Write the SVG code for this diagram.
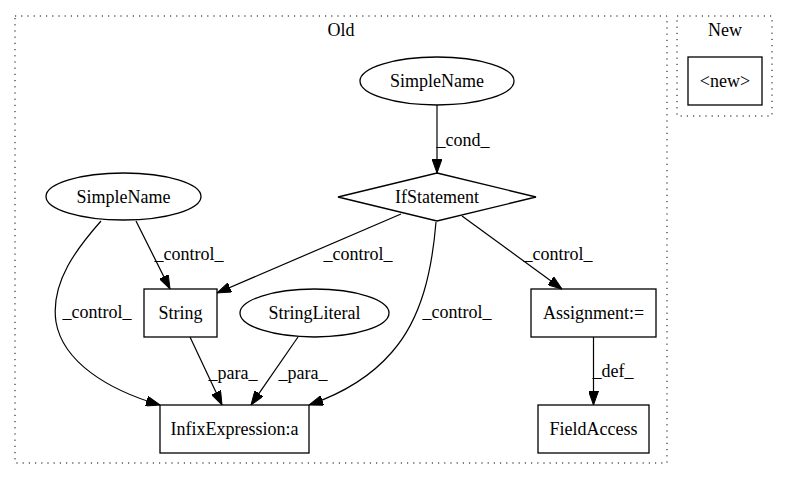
<svg xmlns="http://www.w3.org/2000/svg" width="789" height="480" viewBox="0 0 789 480">
<style>
text{font-family:"Liberation Serif","Times New Roman",serif;font-size:18px;fill:#000;text-anchor:middle}
.cl{fill:none;stroke:#000;stroke-width:1;stroke-dasharray:1.2,5}
.n{fill:none;stroke:#000;stroke-width:1.3}
.e{fill:none;stroke:#000;stroke-width:1.2;marker-end:url(#ah)}
</style>
<defs>
<marker id="ah" markerUnits="userSpaceOnUse" markerWidth="14" markerHeight="10" viewBox="0 0 14 10" refX="14" refY="5" orient="auto">
<path d="M0,0 L14,5 L0,10 z" fill="#000" stroke="#000" stroke-width="1"/>
</marker>
</defs>
<rect width="789" height="480" fill="#fff"/>
<g id="cluster_old">
<rect class="cl" x="15" y="16" width="652" height="447"/>
<text x="341" y="36">Old</text>
</g>
<g id="cluster_new">
<rect class="cl" x="677" y="16" width="95" height="100"/>
<text x="725" y="36">New</text>
</g>
<g id="edges">
<path class="e" d="M437,105 L437,173"/>
<text x="463" y="146">_cond_</text>
<path class="e" d="M136,221 L170,289"/>
<text x="189" y="260">_control_</text>
<path class="e" d="M101,221 C78,247 50,282 56,322 C63,362 108,390 160,405"/>
<text x="97" y="318">_control_</text>
<path class="e" d="M401,214 L217,293"/>
<text x="358" y="260">_control_</text>
<path class="e" d="M436,222 C432,270 422,318 392,352 C368,380 338,395 309,405"/>
<text x="457" y="318">_control_</text>
<path class="e" d="M462,216 L562,289"/>
<text x="558" y="260">_control_</text>
<path class="e" d="M190,337 L222,405"/>
<text x="233" y="379">_para_</text>
<path class="e" d="M298,337 L251,405"/>
<text x="303" y="379">_para_</text>
<path class="e" d="M593.5,337 L593.5,405"/>
<text x="613" y="377">_def_</text>
</g>
<g id="node_new">
<rect class="n" x="688" y="57" width="74" height="48"/>
<text x="725" y="87">&lt;new&gt;</text>
</g>
<g id="node_simplename_top">
<ellipse class="n" cx="437" cy="81" rx="77" ry="24"/>
<text x="437" y="87">SimpleName</text>
</g>
<g id="node_ifstatement">
<polygon class="n" points="437,173 536,197 437,221 338,197"/>
<text x="437" y="203">IfStatement</text>
</g>
<g id="node_simplename_left">
<ellipse class="n" cx="123.5" cy="196.5" rx="77.5" ry="23.5"/>
<text x="123.5" y="202.5">SimpleName</text>
</g>
<g id="node_string">
<rect class="n" x="144" y="289" width="73" height="48"/>
<text x="180.5" y="319">String</text>
</g>
<g id="node_stringliteral">
<ellipse class="n" cx="314.5" cy="313" rx="74.5" ry="24"/>
<text x="314.5" y="319">StringLiteral</text>
</g>
<g id="node_assignment">
<rect class="n" x="531" y="289" width="125" height="48"/>
<text x="593.5" y="319">Assignment:=</text>
</g>
<g id="node_infix">
<rect class="n" x="160" y="405" width="149" height="48"/>
<text x="234.5" y="435">InfixExpression:a</text>
</g>
<g id="node_fieldaccess">
<rect class="n" x="538" y="405" width="111" height="48"/>
<text x="593.5" y="435">FieldAccess</text>
</g>
</svg>
